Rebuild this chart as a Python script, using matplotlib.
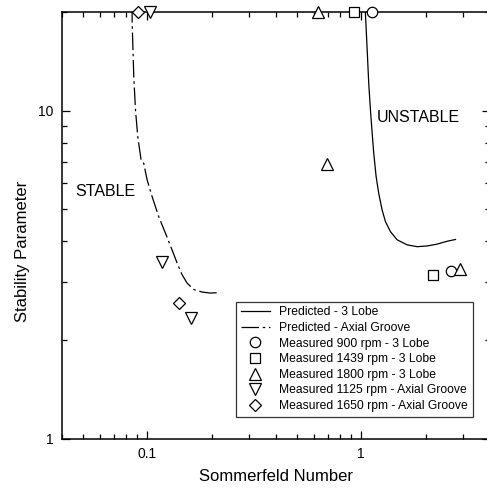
import matplotlib
matplotlib.use('Agg')
import matplotlib.pyplot as plt
from matplotlib.ticker import NullFormatter, FixedLocator, FixedFormatter

plt.rcParams['font.family'] = ['Liberation Sans', 'DejaVu Sans']

# predicted stability boundaries
lobe_x = [1.04, 1.047, 1.067, 1.085, 1.105, 1.126, 1.145, 1.175, 1.208, 1.253, 1.299,
          1.37, 1.473, 1.64, 1.827, 2.035, 2.265, 2.523, 2.759]
lobe_y = [21.0, 19.8, 15.31, 12.12, 10.05, 8.53, 7.42, 6.29, 5.60, 4.98, 4.59,
          4.28, 4.04, 3.90, 3.85, 3.87, 3.92, 4.00, 4.05]
groove_x = [0.085, 0.0851, 0.0866, 0.0882, 0.0904, 0.0937, 0.0964, 0.1, 0.1055, 0.1133,
            0.1218, 0.1308, 0.1381, 0.1457, 0.1538, 0.1651, 0.1807, 0.1976, 0.2201]
groove_y = [21.0, 18.48, 12.70, 10.05, 8.33, 7.07, 6.91, 6.15, 5.47, 4.75,
            4.23, 3.76, 3.43, 3.16, 2.98, 2.85, 2.80, 2.78, 2.79]

# measured points
m900_x = [1.126, 2.634]
m900_y = [20, 3.25]
m1439_x = [0.923, 2.16]
m1439_y = [20, 3.16]
m1800_x = [0.63, 0.694, 2.89]
m1800_y = [20, 6.88, 3.29]
m1125_x = [0.1028, 0.1175, 0.161]
m1125_y = [20, 3.45, 2.33]
m1650_x = [0.0903, 0.1405]
m1650_y = [20, 2.59]

fig = plt.figure(figsize=(4.87, 4.95), dpi=100)
ax = fig.add_axes([62/487, (495-438.7)/495, 428/487, 426.7/495])

ax.plot(lobe_x, lobe_y, color='black', lw=0.9, label='Predicted - 3 Lobe')
ax.plot(groove_x, groove_y, color='black', lw=0.9, dashes=(14, 3, 2, 3),
        label='Predicted - Axial Groove')

mk = dict(color='black', markerfacecolor='white', markeredgewidth=0.9,
          linestyle='none', clip_on=False, zorder=5)
ax.plot(m900_x, m900_y, marker='o', markersize=7.5, label='Measured 900 rpm - 3 Lobe', **mk)
ax.plot(m1439_x, m1439_y, marker='s', markersize=7, label='Measured 1439 rpm - 3 Lobe', **mk)
ax.plot(m1800_x, m1800_y, marker='^', markersize=8, label='Measured 1800 rpm - 3 Lobe', **mk)
ax.plot(m1125_x, m1125_y, marker='v', markersize=8, label='Measured 1125 rpm - Axial Groove', **mk)
ax.plot(m1650_x, m1650_y, marker='D', markersize=6.5, label='Measured 1650 rpm - Axial Groove', **mk)

ax.set_xscale('log')
ax.set_yscale('log')
ax.set_xlim(0.04, 4)
ax.set_ylim(1, 20)

ax.xaxis.set_major_locator(FixedLocator([0.1, 1]))
ax.xaxis.set_major_formatter(FixedFormatter(['0.1', '1']))
ax.yaxis.set_major_locator(FixedLocator([1, 10]))
ax.yaxis.set_major_formatter(FixedFormatter(['1', '10']))
ax.xaxis.set_minor_formatter(NullFormatter())
ax.yaxis.set_minor_formatter(NullFormatter())

ax.tick_params(which='both', direction='in', top=True, right=True, width=0.9)
ax.tick_params(which='major', length=6, labelsize=10, pad=6)
ax.tick_params(which='minor', length=3.5)
for s in ax.spines.values():
    s.set_linewidth(1.1)

ax.set_xlabel('Sommerfeld Number', fontsize=12, labelpad=6)
ax.set_ylabel('Stability Parameter', fontsize=12)
ax.yaxis.set_label_coords(-0.075, 0.44)

ax.text(0.0462, 5.66, 'STABLE', fontsize=11.5, ha='left', va='center')
ax.text(1.179, 9.55, 'UNSTABLE', fontsize=11.5, ha='left', va='center')

leg = ax.legend(loc='lower left', bbox_to_anchor=(0.4065, 0.051), borderaxespad=0,
                fontsize=8.7, fancybox=False, framealpha=1, edgecolor='#333333',
                handlelength=2.4, handletextpad=0.8, labelspacing=0.3, borderpad=0.4,
                numpoints=1)
leg.get_frame().set_linewidth(0.9)

fig.savefig('out.png', dpi=100)
